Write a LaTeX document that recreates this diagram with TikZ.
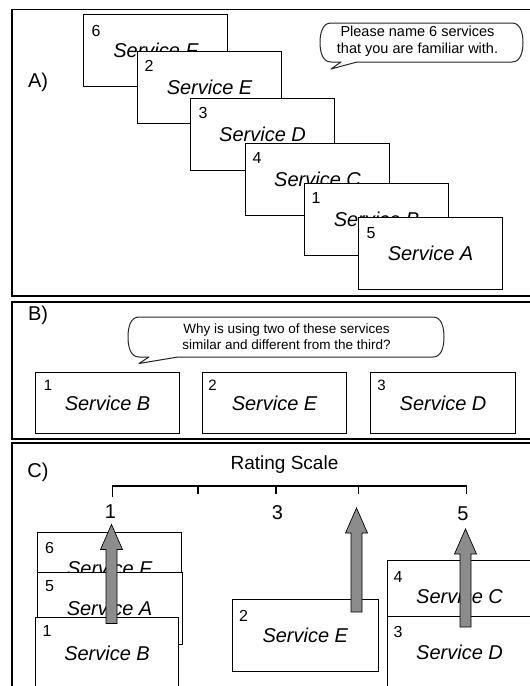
\documentclass[tikz,border=0pt]{standalone}
\usepackage{fontspec}
\setmainfont{Liberation Sans}
\usetikzlibrary{calc}
\tikzset{
  frame/.style={draw=black, line width=1.5pt},
  sbox/.style={draw=black, fill=white, line width=1.1pt, minimum width=144pt,
    minimum height=72pt, inner sep=0pt, anchor=north west,
    font=\fontsize{20}{24}\selectfont\itshape},
  num/.style={font=\fontsize{16}{19}\selectfont, inner sep=0pt, anchor=center},
  bnum/.style={font=\fontsize{15}{18}\selectfont, inner sep=0pt, anchor=center},
  bubble/.style={draw=black!85, line width=1pt, fill=white, line join=round},
  btext/.style={align=center, inner sep=0pt},
  garrow/.style={draw=black, line width=0.7pt, fill=black!45},
  lbl/.style={font=\fontsize{20}{24}\selectfont, inner sep=0pt},
  scaleline/.style={draw=black, line width=1.2pt},
}
\newcommand\grayarrow[2]{%
  \draw[garrow] ($(#2)+(-5.5,0)$) -- ($(#1)+(-5.5,25)$) -- ($(#1)+(-11,25)$) -- (#1)
    -- ($(#1)+(11,25)$) -- ($(#1)+(5.5,25)$) -- ($(#2)+(5.5,0)$) -- cycle;}
\begin{document}
\begin{tikzpicture}[x=1pt,y=-1pt]
\useasboundingbox (0,0) rectangle (530,686);
\clip (0,0) rectangle (530,686);
\fill[white] (0,0) rectangle (530,686);

% ---------- Panel A ----------
\draw[frame] (11.8,9.5) rectangle (545,296);
\node[lbl] (la) at (38,82) {A)};

\node[sbox] (aF) at (83,14) {Service F};
\node[num] (naF) at ([shift={(13pt,-16.5pt)}]aF.north west) {6};
\node[sbox] (aE) at (137,51) {Service E};
\node[num] (naE) at ([shift={(12pt,-15pt)}]aE.north west) {2};
\node[sbox] (aD) at (190,98) {Service D};
\node[num] (naD) at ([shift={(13pt,-15pt)}]aD.north west) {3};
\node[sbox] (aC) at (245,143) {Service C};
\node[num] (naC) at ([shift={(12pt,-15pt)}]aC.north west) {4};
\node[sbox] (aB) at (304,183) {Service B};
\node[num] (naB) at ([shift={(12pt,-15pt)}]aB.north west) {1};
\node[sbox] (aA) at (358,217) {Service A};
\node[num] (naA) at ([shift={(13pt,-16pt)}]aA.north west) {5};

\draw[bubble] (331,23) -- (512,23) to[out=0,in=90] (523,42.5) to[out=-90,in=0] (512,62)
  -- (357,62) -- (331,69) -- (341,62) -- (331,62) to[out=180,in=-90] (320,42.5)
  to[out=90,in=180] (331,23) -- cycle;
\node[btext, font=\fontsize{14.5}{17}\selectfont] (qa) at (417.5,41.5)
  {Please name 6 services\\that you are familiar with.};

% ---------- Panel B ----------
\draw[frame] (11.8,302) rectangle (545,439);
\node[lbl] (lb) at (38,315.5) {B)};

\draw[bubble] (139,317) -- (433,317) to[out=0,in=90] (444,337) to[out=-90,in=0] (433,357)
  -- (178,357) -- (139,363.5) -- (149,357) -- (139,357) to[out=180,in=-90] (128,337)
  to[out=90,in=180] (139,317) -- cycle;
\node[btext, font=\fontsize{13.5}{16}\selectfont] (qb) at (286.5,337)
  {Why is using two of these services\\similar and different from the third?};

\node[sbox, minimum height=61pt] (b1) at (35,372) {Service B};
\node[bnum] (nb1) at ([shift={(13pt,-13pt)}]b1.north west) {1};
\node[sbox, minimum height=61pt] (b2) at (202,372) {Service E};
\node[bnum] (nb2) at ([shift={(10.5pt,-13pt)}]b2.north west) {2};
\node[sbox, minimum height=61pt, minimum width=145pt] (b3) at (370,372) {Service D};
\node[bnum] (nb3) at ([shift={(11.5pt,-13pt)}]b3.north west) {3};

% ---------- Panel C ----------
\draw[frame] (11.8,443) rectangle (545,700);
\node[lbl] (lc) at (38,472) {C)};
\node[font=\fontsize{19}{23}\selectfont, inner sep=0pt] (rs) at (284.5,465) {Rating Scale};

\coordinate (s1) at (112.5,486);
\coordinate (s2) at (198,486);
\coordinate (s3) at (276,486);
\coordinate (s4) at (358.5,486);
\coordinate (s5) at (466.5,486);
\draw[scaleline] ($(s1)+(0,11)$) -- (s1) -- (s5) -- ($(s5)+(0,8)$);
\draw[scaleline] (s2) -- ++(0,8);
\draw[scaleline] (s3) -- ++(0,8);
\draw[scaleline] (s4) -- ++(0,8);
\node[lbl] (r1) at (110.5,512) {1};
\node[lbl] (r3) at (277.5,513) {3};
\node[lbl] (r5) at (463,514) {5};

\node[sbox, minimum width=144.5pt] (cF) at (36.5,531.5) {Service F};
\node[num] (ncF) at ([shift={(13pt,-16.5pt)}]cF.north west) {6};
\node[sbox, minimum width=145pt] (cA) at (36.5,572) {Service A};
\node[num] (ncA) at ([shift={(13pt,-14.5pt)}]cA.north west) {5};
\node[sbox, minimum width=143pt] (cB) at (35,617) {Service B};
\node[num] (ncB) at ([shift={(12pt,-14pt)}]cB.north west) {1};
\node[sbox, minimum width=146.5pt] (cE) at (231.5,599) {Service E};
\node[num] (ncE) at ([shift={(12pt,-17pt)}]cE.north west) {2};
\node[sbox] (cC) at (387,560) {Service C};
\node[num] (ncC) at ([shift={(11pt,-16.5pt)}]cC.north west) {4};
\node[sbox] (cD) at (387,616) {Service D};
\node[num] (ncD) at ([shift={(11pt,-15.5pt)}]cD.north west) {3};

\coordinate (t1) at (111.5,524.5);
\coordinate (e1) at (111.5,623.5);
\coordinate (t2) at (356.5,508);
\coordinate (e2) at (356.5,612);
\coordinate (t3) at (465.5,529);
\coordinate (e3) at (465.5,627);
\grayarrow{t1}{e1}
\grayarrow{t2}{e2}
\grayarrow{t3}{e3}
\end{tikzpicture}
\end{document}
